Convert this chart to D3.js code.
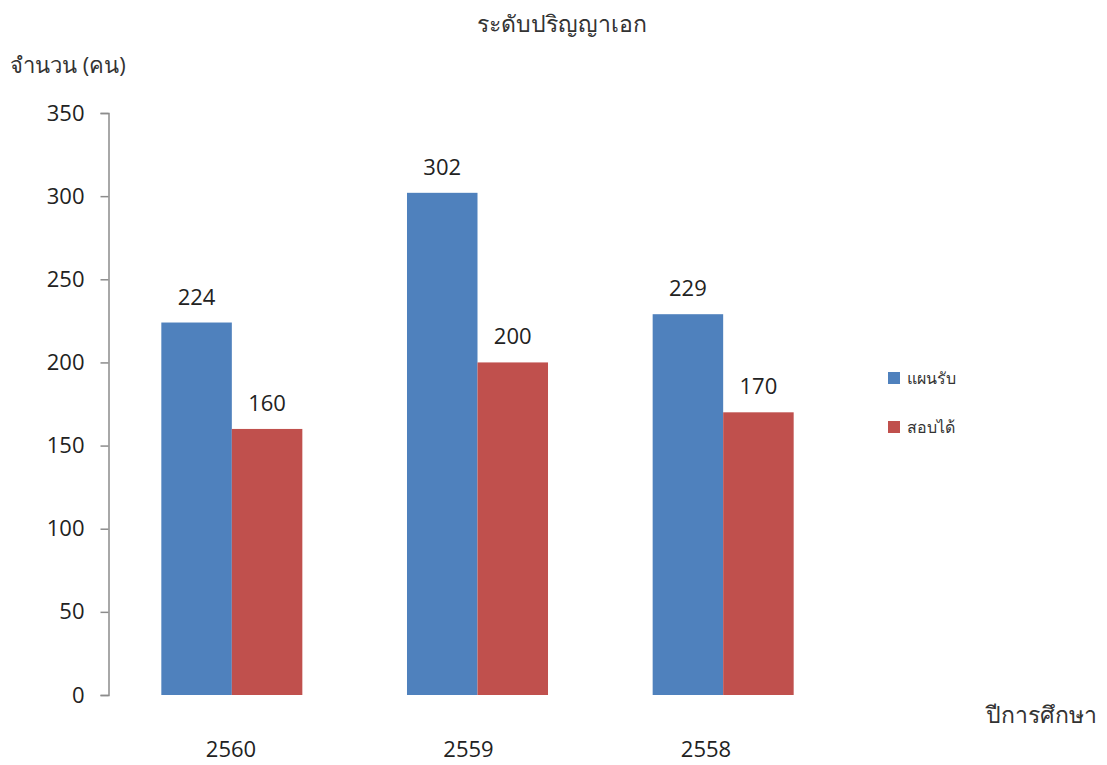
<!DOCTYPE html>
<html>
<head>
<meta charset="utf-8">
<script src="https://cdn.jsdelivr.net/npm/d3@7"></script>
<style>
  body { margin: 0; background: #fff; }
  text { font-family: "Open Sans", "Noto Sans", sans-serif; fill: #222; }
  .thai { fill: #333; }
</style>
</head>
<body>
<script>
// chart data
var years = ["2560", "2559", "2558"];
var seriesNames = ["แผนรับ", "สอบได้"];
var planned = [224, 302, 229];
var admitted = [160, 200, 170];
var yTicks = [0, 50, 100, 150, 200, 250, 300, 350];
var colors = ["#4f81bd", "#c0504d"];

var W = 1107, H = 765;

var svg = d3.select("body").append("svg")
  .attr("width", W)
  .attr("height", H);

// scales
var y = d3.scaleLinear().domain([0, 350]).range([695, 113]);
var x0 = d3.scaleBand().domain(years).range([109, 846]).paddingInner(0.426).paddingOuter(0.213);
var x1 = d3.scaleBand().domain(seriesNames).range([0, x0.bandwidth()]);
// year labels sit a little left of the groups in the original
var xLab = d3.scalePoint().domain(years).range([231, 706]);

var rows = years.map(function(yr, i) {
  return { year: yr, values: [planned[i], admitted[i]] };
});

// y axis
var yAxis = d3.axisLeft(y).tickValues(yTicks).tickSize(8).tickPadding(16);
var ga = svg.append("g")
  .attr("transform", "translate(108.5,0)")
  .call(yAxis);
ga.select(".domain").attr("stroke", "#8c8c8c").attr("stroke-width", 1.5);
ga.selectAll(".tick line").attr("stroke", "#8c8c8c").attr("stroke-width", 1.5);
ga.selectAll(".tick text")
  .style("font-family", "'Open Sans', sans-serif")
  .style("font-size", "22px")
  .style("fill", "#222");

// bars
var groups = svg.selectAll(".grp")
  .data(rows)
  .enter()
  .append("g")
    .attr("class", "grp")
    .attr("transform", function(d) { return "translate(" + x0(d.year) + ",0)"; });

groups.selectAll("rect")
  .data(function(d) { return d.values.map(function(v, i) { return { name: seriesNames[i], value: v, i: i }; }); })
  .enter()
  .append("rect")
    .attr("x", function(d) { return x1(d.name); })
    .attr("width", x1.bandwidth())
    .attr("y", function(d) { return y(d.value); })
    .attr("height", function(d) { return y(0) - y(d.value); })
    .attr("fill", function(d) { return colors[d.i]; });

groups.selectAll(".val")
  .data(function(d) { return d.values.map(function(v, i) { return { name: seriesNames[i], value: v }; }); })
  .enter()
  .append("text")
    .attr("class", "val")
    .attr("x", function(d) { return x1(d.name) + x1.bandwidth() / 2; })
    .attr("y", function(d) { return y(d.value) - 18; })
    .attr("text-anchor", "middle")
    .style("font-size", "22px")
    .text(function(d) { return d.value; });

// year labels
svg.selectAll(".yr")
  .data(years)
  .enter()
  .append("text")
    .attr("class", "yr")
    .attr("x", function(d) { return xLab(d); })
    .attr("y", 757)
    .attr("text-anchor", "middle")
    .style("font-size", "22px")
    .text(function(d) { return d; });

// titles
svg.append("text")
  .attr("class", "thai")
  .attr("x", 562).attr("y", 32)
  .attr("text-anchor", "middle")
  .style("font-size", "23px")
  .text("ระดับปริญญาเอก");

svg.append("text")
  .attr("class", "thai")
  .attr("x", 10).attr("y", 73)
  .style("font-size", "22px")
  .text("จำนวน (คน)");

svg.append("text")
  .attr("class", "thai")
  .attr("x", 1097).attr("y", 723)
  .attr("text-anchor", "end")
  .style("font-size", "23px")
  .text("ปีการศึกษา");

// legend
var legend = svg.selectAll(".legend")
  .data(seriesNames)
  .enter()
  .append("g")
    .attr("class", "legend")
    .attr("transform", function(d, i) { return "translate(888," + (372 + i * 49) + ")"; });

legend.append("rect")
  .attr("width", 12)
  .attr("height", 12)
  .attr("fill", function(d, i) { return colors[i]; });

legend.append("text")
  .attr("class", "thai")
  .attr("x", 19)
  .attr("y", 12)
  .style("font-size", "16px")
  .text(function(d) { return d; });
</script>
</body>
</html>
